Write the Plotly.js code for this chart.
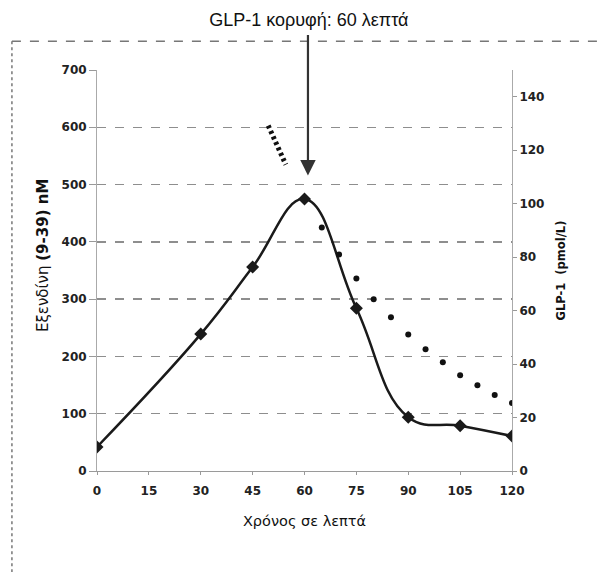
<!DOCTYPE html>
<html>
<head>
<meta charset="utf-8">
<script src="https://cdn.plot.ly/plotly-3.0.1.min.js"></script>
<style>html,body{margin:0;padding:0;background:#fff;}#chart{width:602px;height:572px;}</style>
</head>
<body>
<div id="chart"></div>
<script>
// Time points (minutes)
const timeMin = [0, 30, 45, 60, 75, 90, 105, 120];
// Exendin (9-39) nM, left axis
const exendin = [42, 239, 356, 475, 284, 94, 79, 61];
// GLP-1 (pmol/L), right axis — dotted markers
const glpTime = [65, 70, 75, 80, 85, 90, 95, 100, 105, 110, 115, 120];
const glpValues = [91.1, 81.0, 72.0, 64.2, 57.5, 51.1, 45.5, 40.7, 35.8, 32.1, 28.4, 25.4];
// Short dotted segment before the peak (pmol/L)
const glpEarlyTime = [49.5, 54.6];
const glpEarlyValues = [129.2, 114.6];
const xTicks = [0, 15, 30, 45, 60, 75, 90, 105, 120];
const yRightTicks = [0, 20, 40, 60, 80, 100, 120, 140];

const tickFont = {family: 'DejaVu Sans', size: 12, color: '#222', weight: 'bold'};

const traces = [
  {
    x: timeMin, y: exendin, type: 'scatter', mode: 'lines+markers',
    line: {color: '#1a1a1a', width: 2.5, shape: 'spline', smoothing: 1.2},
    marker: {symbol: 'diamond', size: 10, color: '#1a1a1a'},
    yaxis: 'y', hoverinfo: 'skip'
  },
  {
    x: glpTime, y: glpValues, type: 'scatter', mode: 'markers',
    marker: {symbol: 'circle', size: 6, color: '#111'},
    yaxis: 'y2', hoverinfo: 'skip'
  },
  {
    x: glpEarlyTime, y: glpEarlyValues, type: 'scatter', mode: 'lines',
    line: {color: '#111', width: 5, dash: '3px,3px'},
    yaxis: 'y2', hoverinfo: 'skip'
  }
];

const layout = {
  width: 602, height: 572,
  margin: {l: 97, r: 90, t: 70, b: 101},
  paper_bgcolor: '#fff', plot_bgcolor: '#fff',
  showlegend: false,
  title: {
    text: 'GLP-1 κορυφή: 60 λεπτά',
    font: {family: 'Liberation Sans', size: 18, color: '#111'},
    x: 0.513, xref: 'container', xanchor: 'center',
    y: 0.965, yref: 'container', yanchor: 'middle'
  },
  xaxis: {
    range: [0, 120], tickvals: xTicks, ticktext: xTicks.map(String),
    showgrid: false, zeroline: false,
    showline: true, linecolor: '#9a9a9a', linewidth: 1,
    ticks: 'outside', ticklen: 3, tickcolor: '#9a9a9a',
    tickfont: tickFont, ticklabelstandoff: 6,
    title: {text: 'Χρόνος σε λεπτά', font: {family: 'DejaVu Sans', size: 14.5, color: '#111'}, standoff: 18}
  },
  yaxis: {
    range: [0, 700], dtick: 100, tick0: 0,
    showgrid: true, gridcolor: '#8e8e8e', gridwidth: 1.3, griddash: 'dash',
    zeroline: false,
    showline: true, linecolor: '#aaaaaa', linewidth: 1,
    ticks: 'outside', ticklen: 7, tickcolor: '#999',
    tickfont: tickFont
  },
  yaxis2: {
    range: [0, 150], tickvals: yRightTicks,
    overlaying: 'y', side: 'right',
    showgrid: false, zeroline: false,
    showline: true, linecolor: '#aaaaaa', linewidth: 1,
    ticks: 'outside', ticklen: 4, tickcolor: '#999',
    tickfont: tickFont,
    title: {text: '<b>GLP-1  (pmol/L)</b>', font: {family: 'DejaVu Sans', size: 11.5, color: '#111'}, standoff: 13}
  },
  annotations: [
    {
      x: 61, y: 516, xref: 'x', yref: 'y',
      ax: 0, ay: -142, axref: 'pixel', ayref: 'pixel',
      showarrow: true, arrowhead: 2, arrowsize: 1.4, arrowwidth: 2.2,
      arrowcolor: '#333', text: ''
    },
    {
      text: 'Εξενδίνη <b>(9-39) nM</b>', textangle: -90,
      xref: 'paper', yref: 'paper',
      x: (43 - 97) / 415, y: (471 - 256) / 401,
      xanchor: 'center', yanchor: 'middle', showarrow: false,
      font: {family: 'DejaVu Sans', size: 15, color: '#111'}
    }
  ],
  shapes: [
    {type: 'line', xref: 'paper', yref: 'paper', x0: -0.205, x1: 1.3, y0: 1.072, y1: 1.072,
     line: {color: '#777', width: 1.5, dash: 'dash'}},
    {type: 'line', xref: 'paper', yref: 'paper', x0: -0.205, x1: -0.205, y0: 1.072, y1: -0.26,
     line: {color: '#777', width: 1.5, dash: 'dot'}}
  ]
};

Plotly.newPlot('chart', traces, layout, {staticPlot: true, displayModeBar: false});
</script>
</body>
</html>
